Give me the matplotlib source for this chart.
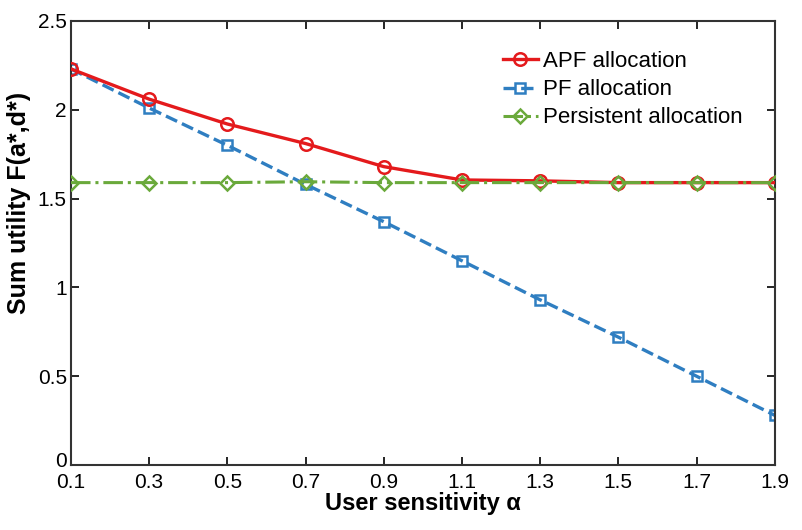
import numpy as np
import matplotlib
matplotlib.use('Agg')
from matplotlib import pyplot as plt
from matplotlib import transforms

# Data
alpha = [0.1, 0.3, 0.5, 0.7, 0.9, 1.1, 1.3, 1.5, 1.7, 1.9]
apf = [2.23, 2.06, 1.92, 1.81, 1.68, 1.605, 1.60, 1.59, 1.59, 1.59]
pf = [2.23, 2.01, 1.80, 1.58, 1.37, 1.15, 0.93, 0.72, 0.50, 0.28]
persistent = [1.59, 1.59, 1.59, 1.595, 1.59, 1.59, 1.59, 1.59, 1.59, 1.59]

xticks = [0.1, 0.3, 0.5, 0.7, 0.9, 1.1, 1.3, 1.5, 1.7, 1.9]
yticks = [0, 0.5, 1, 1.5, 2, 2.5]
ytick_labels = ['0', '0.5', '1', '1.5', '2', '2.5']

plt.rcParams['font.family'] = ['Liberation Sans', 'DejaVu Sans']

fig = plt.figure(figsize=(8.02, 5.30), dpi=100)
ax = fig.add_axes([0.0885, 0.1226, 0.8775, 0.8378])

ax.plot(alpha, apf, '-o', color='#e41a1c', lw=2.4, ms=9, mew=1.8,
        mfc='none', label='APF allocation', zorder=3)
ax.plot(alpha, pf, '--s', color='#2f7ec1', lw=2.4, ms=7, mew=1.8,
        mfc='none', label='PF allocation', zorder=2)
ax.plot(alpha, persistent, '-.D', color='#6aa93b', lw=2.2, ms=7, mew=1.8,
        mfc='none', label='Persistent allocation', zorder=4)

ax.set_xlim(0.1, 1.9)
ax.set_ylim(0, 2.5)
ax.set_xticks(xticks)
ax.set_xticklabels([str(t) for t in xticks])
ax.set_yticks(yticks)
ax.set_yticklabels(ytick_labels)
ax.tick_params(direction='in', top=True, right=True, length=6, width=1.2,
               labelsize=15)
ax.tick_params(axis='x', pad=6)
ax.tick_params(axis='y', pad=3)
for s in ax.spines.values():
    s.set_linewidth(1.5)
    s.set_color('#333333')

# nudge the "0" label up a little so it sits clear of "0.1"
zero_lab = ax.yaxis.get_major_ticks()[0].label1
zero_lab.set_transform(zero_lab.get_transform() +
                       transforms.ScaledTranslation(0, 4 / 72, fig.dpi_scale_trans))

ax.set_xlabel('User sensitivity α', fontsize=17, fontweight='bold', labelpad=0)
ax.set_ylabel('Sum utility F(a*,d*)', fontsize=18, fontweight='bold')
ax.yaxis.set_label_coords(-0.057, 0.59)

ax.legend(loc='upper left', frameon=False, fontsize=16, handlelength=1.55,
          handletextpad=0.25, borderaxespad=0, borderpad=0, labelspacing=0.32,
          bbox_to_anchor=(0.614, 0.932))

plt.savefig('out.png', dpi=100)
